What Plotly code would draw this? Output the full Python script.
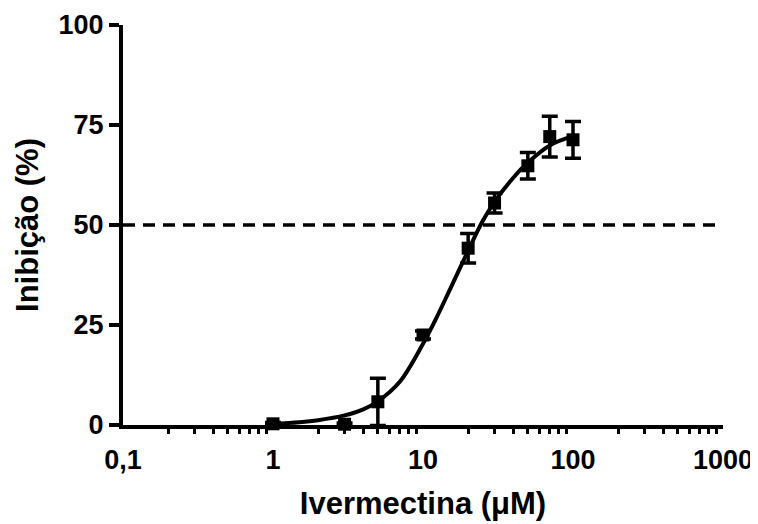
import plotly.graph_objects as go

# Data points (mean ± error)
conc = [1, 3, 5, 10, 20, 30, 50, 70, 100]
inhib = [0.3, 0.2, 5.8, 22.5, 44.2, 55.5, 64.8, 72.1, 71.3]
err = [0.3, 0.3, 5.9, 1.0, 3.7, 2.5, 3.3, 5.1, 4.6]

# Fitted curve
curve_x = [1, 1.5, 2, 3, 4, 5, 7, 10, 12, 15, 20, 25, 30, 40, 50, 70, 100]
curve_y = [0.3, 0.7, 1.2, 2.4, 3.9, 5.9, 10.8, 20.3, 26.0, 33.6, 43.6, 51.0, 55.8, 61.8, 65.6, 69.9, 72.2]

# Reference line
ref_x = [0.1, 1000]
ref_y = [50, 50]

x_tickvals = [0.1, 1, 10, 100, 1000]
x_ticktext = ["0,1", "1", "10", "100", "1000"]
y_tickvals = [0, 25, 50, 75, 100]
minor_vals = [m * 10 ** e for e in (-1, 0, 1, 2) for m in range(2, 10)]

FONT = "Liberation Sans, Arial, sans-serif"

fig = go.Figure()
fig.add_trace(go.Scatter(
    x=ref_x, y=ref_y, mode="lines",
    line=dict(color="black", width=3.5, dash="12px,8px"),
    hoverinfo="skip", showlegend=False, cliponaxis=False,
))
fig.add_trace(go.Scatter(
    x=curve_x, y=curve_y, mode="lines",
    line=dict(color="black", width=4, shape="spline", smoothing=1.0),
    showlegend=False, cliponaxis=False,
))
fig.add_trace(go.Scatter(
    x=conc, y=inhib, mode="markers",
    marker=dict(symbol="square", size=13, color="black"),
    error_y=dict(type="data", array=err, visible=True, color="black", thickness=3.5, width=8),
    showlegend=False, cliponaxis=False,
))

fig.update_layout(
    width=750, height=516,
    margin=dict(l=115, r=35, t=17, b=99),
    paper_bgcolor="white", plot_bgcolor="white",
    font=dict(family=FONT, color="black"),
    xaxis=dict(
        type="log", range=[-1, 3], automargin=False,
        tickvals=x_tickvals, ticktext=x_ticktext,
        ticks="", showgrid=False, zeroline=False,
        showline=True, linecolor="black", linewidth=4,
        ticklabelstandoff=8,
        tickfont=dict(size=27, family=FONT, color="black", weight="bold"),
        title=dict(text="<b>Ivermectina (μM)</b>", font=dict(size=31, family=FONT, color="black"), standoff=19),
        minor=dict(tickvals=minor_vals, ticks="outside", ticklen=5, tickwidth=3, tickcolor="black", showgrid=False),
    ),
    yaxis=dict(
        range=[0, 100], automargin=False,
        tickvals=y_tickvals,
        ticks="outside", ticklen=10, tickwidth=4, tickcolor="black",
        showgrid=False, zeroline=False,
        showline=True, linecolor="black", linewidth=4,
        tickfont=dict(size=27, family=FONT, color="black", weight="bold"),
        title=dict(text="<b>Inibição (%)</b>", font=dict(size=31, family=FONT, color="black"), standoff=12),
    ),
)

fig.write_html("out.html")
